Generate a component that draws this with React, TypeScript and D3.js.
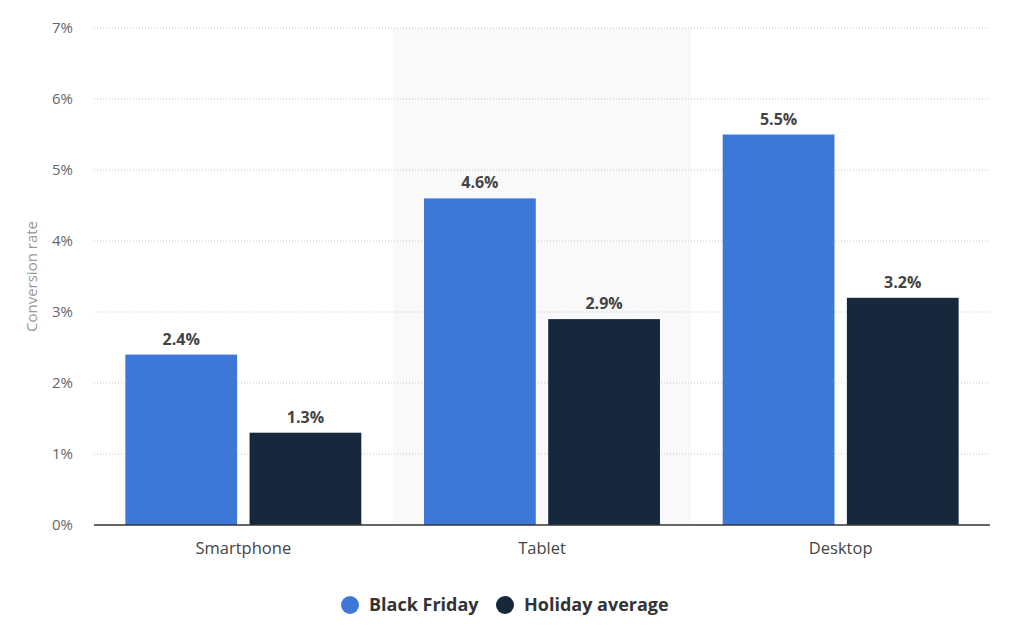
import React from 'react';
import * as d3 from 'd3';

const categories = ['Smartphone', 'Tablet', 'Desktop'];
const seriesNames = ['Black Friday', 'Holiday average'];
const blackFriday = [2.4, 4.6, 5.5];
const holidayAverage = [1.3, 2.9, 3.2];
const yTicks = [0, 1, 2, 3, 4, 5, 6, 7];

const colors = ['#3d78d8', '#17283d'];
const font = '"Open Sans", "DejaVu Sans", sans-serif';

const width = 1024;
const height = 633;
const margin = { left: 94, right: 34, top: 28, bottom: 108 };

const App: React.FC = () => {
  const values = [blackFriday, holidayAverage];

  const x = d3.scaleBand<string>()
    .domain(categories)
    .range([margin.left, width - margin.right]);

  const bw = x.bandwidth();
  const xInner = d3.scaleBand<string>()
    .domain(seriesNames)
    .range([bw * 0.105, bw * 0.895])
    .paddingInner(0.1);

  const y = d3.scaleLinear()
    .domain([0, 7])
    .range([height - margin.bottom, margin.top]);

  const plotRight = width - margin.right;

  return (
    <svg width={width} height={height} style={{ display: 'block', margin: '-8px' }}>
      <rect width={width} height={height} fill="#fff" />
      {/* highlighted band */}
      <rect
        x={x('Tablet')}
        y={y(7)}
        width={bw}
        height={y(0) - y(7)}
        fill="#f9f9f9"
      />
      {/* grid */}
      {yTicks.map(t => (
        <g key={t}>
          {t > 0 && (
            <line
              x1={margin.left}
              x2={plotRight}
              y1={y(t)}
              y2={y(t)}
              stroke="#c8c8c8"
              strokeDasharray="1,2"
            />
          )}
          <text
            x={73}
            y={y(t)}
            dy="0.35em"
            textAnchor="end"
            fontFamily={font}
            fontSize={15}
            fill="#666"
          >
            {t}%
          </text>
        </g>
      ))}
      {/* bars */}
      {categories.map((c, i) => (
        <g key={c} transform={`translate(${x(c)},0)`}>
          {seriesNames.map((s, j) => {
            const v = values[j][i];
            const bx = xInner(s) as number;
            return (
              <g key={s}>
                <rect
                  x={bx}
                  y={y(v)}
                  width={xInner.bandwidth()}
                  height={y(0) - y(v)}
                  fill={colors[j]}
                />
                <text
                  x={bx + xInner.bandwidth() / 2}
                  y={y(v) - 10}
                  textAnchor="middle"
                  fontFamily={font}
                  fontSize={16}
                  fontWeight="bold"
                  fill="#444"
                >
                  {v.toFixed(1)}%
                </text>
              </g>
            );
          })}
          <text
            x={bw / 2}
            y={y(0) + 29}
            textAnchor="middle"
            fontFamily={font}
            fontSize={16.5}
            fill="#444"
          >
            {c}
          </text>
        </g>
      ))}
      {/* baseline */}
      <line
        x1={margin.left}
        x2={plotRight}
        y1={y(0)}
        y2={y(0)}
        stroke="#333"
        strokeWidth={1.5}
      />
      {/* y title */}
      <text
        transform={`translate(37,${(y(0) + y(7)) / 2}) rotate(-90)`}
        textAnchor="middle"
        fontFamily={font}
        fontSize={15}
        fill="#999"
      >
        Conversion rate
      </text>
      {/* legend */}
      {seriesNames.map((s, j) => {
        const lx = j === 0 ? 350 : 505;
        return (
          <g key={s} transform={`translate(${lx},605)`}>
            <circle r={9} fill={colors[j]} />
            <text
              x={19}
              dy="0.35em"
              fontFamily={font}
              fontSize={18}
              fontWeight="bold"
              fill="#333"
            >
              {s}
            </text>
          </g>
        );
      })}
    </svg>
  );
};

export default App;
